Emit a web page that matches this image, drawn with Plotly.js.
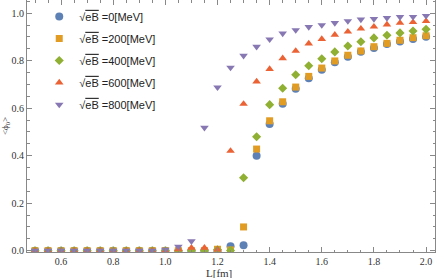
<!DOCTYPE html>
<html><head><meta charset="utf-8">
<script src="https://cdn.plot.ly/plotly-3.0.1.min.js"></script>
<style>body{margin:0;padding:0;background:#fff}#c{width:436px;height:278px}</style>
</head><body><div id="c"></div>
<script>
const L = [0.5,0.55,0.6,0.65,0.7,0.75,0.8,0.85,0.9,0.95,1.0,1.05,1.1,1.15,1.2,1.25,1.3,1.35,1.4,1.45,1.5,1.55,1.6,1.65,1.7,1.75,1.8,1.85,1.9,1.95,2.0];
const eB0   = [0,0,0,0,0,0,0,0,0,0,0,0,0,0,0,0.019,0.023,0.40,0.533,0.619,0.682,0.726,0.762,0.793,0.817,0.838,0.853,0.870,0.881,0.891,0.901];
const eB200 = [0,0,0,0,0,0,0,0,0,0,0,0,0,0,0.006,0.003,0.10,0.428,0.547,0.627,0.689,0.734,0.769,0.799,0.823,0.841,0.859,0.873,0.886,0.897,0.905];
const eB400 = [0,0,0,0,0,0,0,0,0,0,0,0,0,0,0.004,0.001,0.307,0.48,0.615,0.684,0.741,0.779,0.808,0.837,0.862,0.88,0.896,0.907,0.917,0.925,0.932];
const eB600 = [0,0,0,0,0,0,0,0,0,0,0,0.006,0.012,0.012,0.005,0.42,0.618,0.712,0.765,0.81,0.841,0.872,0.891,0.909,0.922,0.935,0.943,0.952,0.959,0.962,0.967];
const eB800 = [0,0,0,0,0,0,0,0,0,0,0.004,0.017,0.04,0.518,0.688,0.771,0.821,0.859,0.89,0.915,0.929,0.942,0.950,0.959,0.967,0.974,0.976,0.980,0.984,0.985,0.989];
const names = ["0","200","400","600","800"];
const series = [eB0, eB200, eB400, eB600, eB800];
const colors = ["#5E81B5","#E19C24","#8FB032","#EB6235","#8778B3"];
const symbols = ["circle","square","diamond","triangle-up","triangle-down"];
const sizes = [8,7,7,7.5,7.5];
const xTitle = "L[fm]";
const yTitle = "&lt;ϕ<sub>0</sub>&gt;";

const traces = series.map((s,i)=>({
  x: L, y: s, type:"scatter", mode:"markers",
  legendgroup: "g"+i,
  name: "√<span style='text-decoration:overline'>eB</span> =" + names[i] + "[MeV]",
  marker:{color:colors[i], symbol:symbols[i], size:sizes[i], line:{width:0}}
}));

const axisCommon = {
  showline:true, linecolor:"#888", linewidth:1, mirror:"ticks",
  ticks:"inside", ticklen:5, tickcolor:"#888", tickwidth:1,
  showgrid:false, zeroline:false,
  tickfont:{family:"Liberation Serif, serif", size:10, color:"#333"},
  minor:{ticks:"inside", ticklen:2.5, tickcolor:"#888", dtick:0.05}
};

const layout = {
  width:436, height:278,
  margin:{l:27, r:1, t:0, b:26},
  paper_bgcolor:"#fff", plot_bgcolor:"#fff",
  showlegend:true,
  legend:{x:0.03, y:0.992, xanchor:"left", yanchor:"top", bgcolor:"rgba(0,0,0,0)",
    tracegroupgap:3,
    font:{family:"Liberation Sans, sans-serif", size:11, color:"#222"}, itemwidth:30},
  xaxis:Object.assign({}, axisCommon, {range:[0.4693, 2.0343], tickmode:"array",
    tickvals:[0.6,0.8,1.0,1.2,1.4,1.6,1.8,2.0], ticktext:["0.6","0.8","1.0","1.2","1.4","1.6","1.8","2.0"]}),
  yaxis:Object.assign({}, axisCommon, {range:[-0.0055, 1.0556], tickmode:"array",
    tickvals:[0,0.2,0.4,0.6,0.8,1.0], ticktext:["0.0","0.2","0.4","0.6","0.8","1.0"],
    title:{text:yTitle, font:{family:"Liberation Serif, serif", size:9, color:"#333"}, standoff:2}}),
  annotations:[{text:xTitle, xref:"paper", yref:"paper", x:0.47, y:-0.085, xanchor:"center", yanchor:"middle",
    showarrow:false, font:{family:"Liberation Serif, serif", size:11, color:"#333"}}]
};
Plotly.newPlot("c", traces, layout, {displayModeBar:false, staticPlot:true});
</script>
</body></html>
